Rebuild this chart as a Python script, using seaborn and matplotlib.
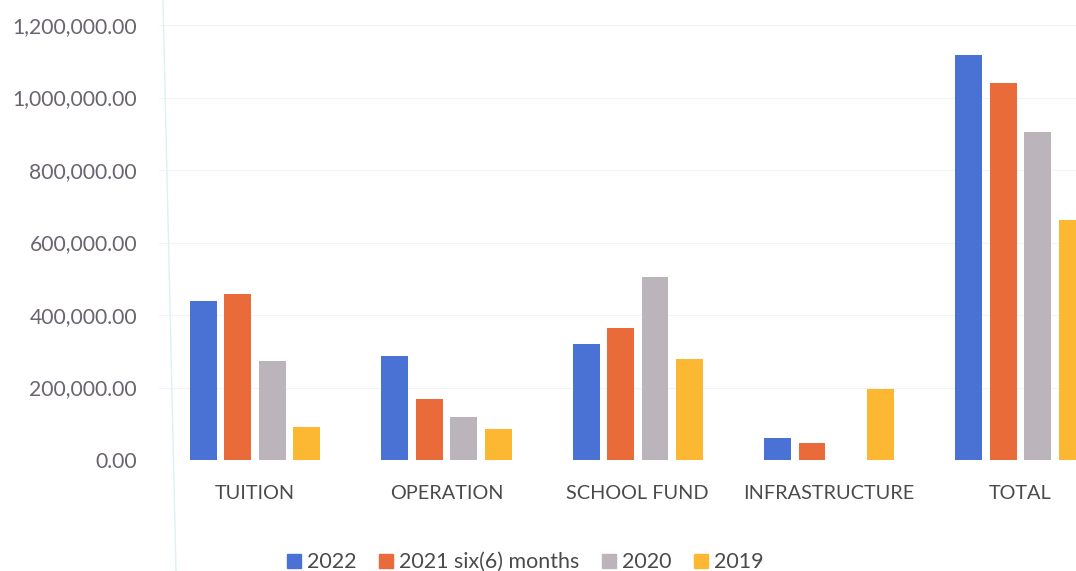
import matplotlib
matplotlib.use("Agg")
import matplotlib.pyplot as plt
from matplotlib.lines import Line2D
from matplotlib.ticker import FuncFormatter, MultipleLocator
import seaborn as sns
import pandas as pd

categories = ["TUITION", "OPERATION", "SCHOOL FUND", "INFRASTRUCTURE", "TOTAL"]
series_names = ["2022", "2021 six(6) months", "2020", "2019"]
values_2022 = [438000, 286500, 321000, 60600, 1118000]
values_2021 = [459000, 167000, 363000, 47700, 1040000]
values_2020 = [273500, 119000, 505000, 0, 903600]
values_2019 = [92000, 86000, 279000, 196000, 661000]
colors = ["#4a72d4", "#ea6b3a", "#bbb5bb", "#fdb833"]

rows = []
for name, vals in zip(series_names, [values_2022, values_2021, values_2020, values_2019]):
    for cat, v in zip(categories, vals):
        rows.append({"category": cat, "series": name, "value": v})
df = pd.DataFrame(rows)

sns.set_theme(style="white")
plt.rcParams["font.family"] = ["Lato", "DejaVu Sans"]

W, H = 1076, 571
fig = plt.figure(figsize=(W / 100, H / 100), dpi=100)
# plot area: categories spaced ~191px apart, last group runs past the right edge
left_px, right_px = 159.3, 1116.3
top_px, bottom_px = 25, 460
ax = fig.add_axes([left_px / W, 1 - bottom_px / H,
                   (right_px - left_px) / W, (bottom_px - top_px) / H])

sns.barplot(data=df, x="category", y="value", hue="series",
            hue_order=series_names, order=categories, palette=colors,
            width=0.72, gap=0.22, saturation=1, ax=ax, legend=False,
            edgecolor="none", zorder=3)

ax.set_xlim(-0.5, 4.5)
ax.set_ylim(0, 1200000)
ax.yaxis.set_major_locator(MultipleLocator(200000))
ax.yaxis.set_major_formatter(FuncFormatter(lambda v, p: f"{v:,.2f}"))
ax.grid(axis="y", color="#f3f3f3", linewidth=0.8, zorder=0)
for s in ax.spines.values():
    s.set_visible(False)
ax.set_xlabel("")
ax.set_ylabel("")
ax.tick_params(axis="y", labelsize=15.2, colors="#6a6470", length=0, pad=16)
ax.tick_params(axis="x", labelsize=14.3, colors="#4a4a4a", length=0, pad=18)

handles = [Line2D([0], [0], marker="s", linestyle="none", markersize=10,
                  markerfacecolor=c, markeredgecolor=c) for c in colors]
fig.legend(handles, series_names, loc="center", bbox_to_anchor=(525 / W, 1 - 562 / H),
           ncol=4, frameon=False, fontsize=15.4, handletextpad=0.25,
           columnspacing=1.05, handlelength=0.7, labelcolor="#4a4a4a")

# faint frame edge on the left
fig.add_artist(Line2D([163 / W, 176 / W], [1, 0], transform=fig.transFigure,
                      color="#ddf0f2", linewidth=1.0))

fig.savefig("out.png", dpi=100, facecolor="white")
